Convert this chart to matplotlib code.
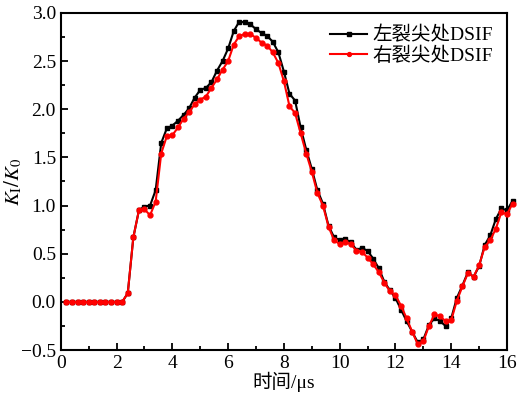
import numpy as np
import matplotlib
matplotlib.use("Agg")
import matplotlib.pyplot as plt
from matplotlib.ticker import MultipleLocator

plt.rcParams['font.family'] = ['Liberation Serif', 'Noto Sans CJK SC']
plt.rcParams['mathtext.fontset'] = 'stix'

# time, microseconds
t = [0.2, 0.4, 0.6, 0.8, 1.0, 1.2, 1.4, 1.6, 1.8, 2.0, 2.2,
     2.4, 2.6, 2.8, 3.0, 3.2, 3.4, 3.6, 3.8, 4.0, 4.2, 4.4, 4.6, 4.8,
     5.0, 5.2, 5.4, 5.6, 5.8, 6.0, 6.2, 6.4, 6.6, 6.8, 7.0, 7.2, 7.4,
     7.6, 7.8, 8.0, 8.2, 8.4, 8.6, 8.8, 9.0, 9.2, 9.4, 9.6, 9.8, 10.0,
     10.2, 10.4, 10.6, 10.8, 11.0, 11.2, 11.4, 11.6, 11.8, 12.0, 12.2,
     12.4, 12.6, 12.8, 13.0, 13.2, 13.4, 13.6, 13.8, 14.0, 14.2, 14.4,
     14.6, 14.8, 15.0, 15.2, 15.4, 15.6, 15.8, 16.0, 16.2]

# left crack tip
left = [0, 0, 0, 0, 0, 0, 0, 0, 0, 0, 0,
        0.09, 0.67, 0.95, 0.99, 1.00, 1.16, 1.65, 1.80, 1.83, 1.88, 1.94, 2.01, 2.12,
        2.20, 2.22, 2.28, 2.40, 2.50, 2.63, 2.81, 2.91, 2.90, 2.88, 2.83, 2.79, 2.76,
        2.70, 2.59, 2.39, 2.16, 2.09, 1.81, 1.58, 1.38, 1.16, 1.02, 0.79, 0.67, 0.64,
        0.65, 0.62, 0.54, 0.56, 0.53, 0.45, 0.35, 0.21, 0.12, 0.04, -0.08,
        -0.20, -0.31, -0.42, -0.39, -0.24, -0.17, -0.20, -0.25, -0.17, 0.04, 0.17,
        0.31, 0.26, 0.37, 0.59, 0.69, 0.86, 0.97, 0.95, 1.05]

# right crack tip
right = [0, 0, 0, 0, 0, 0, 0, 0, 0, 0, 0,
         0.09, 0.67, 0.95, 0.96, 0.90, 1.04, 1.54, 1.72, 1.73, 1.81, 1.90, 1.97, 2.05,
         2.10, 2.13, 2.22, 2.31, 2.41, 2.50, 2.67, 2.76, 2.78, 2.78, 2.74, 2.69, 2.66,
         2.59, 2.48, 2.29, 2.03, 1.96, 1.75, 1.54, 1.35, 1.13, 1.00, 0.78, 0.64, 0.60,
         0.62, 0.60, 0.53, 0.52, 0.46, 0.39, 0.31, 0.20, 0.11, 0.07, -0.04,
         -0.17, -0.31, -0.44, -0.41, -0.25, -0.13, -0.15, -0.20, -0.19, 0.01, 0.16,
         0.30, 0.26, 0.38, 0.57, 0.64, 0.76, 0.93, 0.91, 1.02]

fig = plt.figure(figsize=(5.2, 4.01), dpi=100)
ax = fig.add_axes([0.117, 0.127, 0.858, 0.841])

ax.plot(t, left, color='black', marker='s', markersize=3.5, linewidth=1.5,
        label='左裂尖处DSIF', clip_on=False, zorder=3)
ax.plot(t, right, color='red', marker='o', markersize=3.5, linewidth=1.5,
        label='右裂尖处DSIF', clip_on=False, zorder=4)

ax.set_xlim(0, 16)
ax.set_ylim(-0.5, 3.0)
ax.xaxis.set_major_locator(MultipleLocator(2))
ax.xaxis.set_minor_locator(MultipleLocator(1))
ax.yaxis.set_major_locator(MultipleLocator(0.5))
ax.yaxis.set_minor_locator(MultipleLocator(0.25))
ax.tick_params(which='both', direction='in', labelsize=14, width=1.3)
ax.tick_params(which='major', length=5)
ax.tick_params(which='minor', length=3)
for s in ax.spines.values():
    s.set_linewidth(1.5)

ax.set_xlabel('时间/μs', fontsize=14, labelpad=0)
ax.set_ylabel(r'$K_{\rm I}/K_0$', fontsize=15)
ax.yaxis.set_label_coords(-0.082, 0.5)

leg = ax.legend(loc='upper right', frameon=False, fontsize=14,
                handlelength=1.9, handletextpad=0.3, labelspacing=0.1,
                borderaxespad=0.3, markerscale=0.8)

fig.savefig('out.png', dpi=100)
